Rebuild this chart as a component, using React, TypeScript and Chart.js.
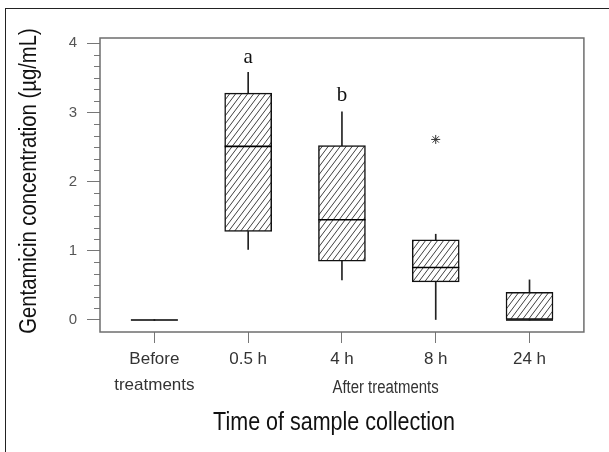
import React, { useEffect, useRef } from "react";
import { Chart, registerables } from "chart.js";

Chart.register(...registerables);

// ---- data ----
const categoryLabels: (string | string[])[] = [["Before", "treatments"], "0.5 h", "4 h", "8 h", "24 h"];
const categoryX = [1, 2, 3, 4, 5];
const whiskerLow = [0, 1.02, 0.58, 0, 0];
const q1 = [0, 1.28, 0.85, 0.55, 0];
const median = [0, 2.51, 1.45, 0.76, 0];
const q3 = [0, 3.28, 2.52, 1.16, 0.4];
const whiskerHigh = [0, 3.58, 3.01, 1.24, 0.58];
const outliers = [{ x: 4, y: 2.61 }];
const groupLetters = ["", "a", "b", "", ""];
const letterY = [0, 3.79, 3.25, 0, 0];
const yTicks = [0, 1, 2, 3, 4];
const yTitle = "Gentamicin concentration (\u00b5g/mL)";
const xTitle = "Time of sample collection";
const groupCaption = "After treatments";
const groupCaptionX = 3.465;

const SANS = "'Liberation Sans', Arial, sans-serif";
const SERIF = "'Liberation Serif', 'Times New Roman', serif";

function makeHatch(): CanvasPattern | string {
  const w = 6, h = 8;
  const c = document.createElement("canvas");
  c.width = w;
  c.height = h;
  const g = c.getContext("2d");
  if (!g) return "#fff";
  g.fillStyle = "#fff";
  g.fillRect(0, 0, w, h);
  g.strokeStyle = "#2a2a2a";
  g.lineWidth = 0.9;
  for (const dx of [-w, 0, w]) {
    g.beginPath();
    g.moveTo(dx - w, 2 * h);
    g.lineTo(dx + 2 * w, -h);
    g.stroke();
  }
  return g.createPattern(c, "repeat") || "#fff";
}

function narrowText(ctx: CanvasRenderingContext2D, text: string, x: number, y: number, sx: number, rot = 0) {
  ctx.save();
  ctx.translate(x, y);
  if (rot) ctx.rotate(rot);
  ctx.scale(sx, 1);
  ctx.fillText(text, 0, 0);
  ctx.restore();
}

const decorPlugin = {
  id: "decor",
  afterDraw(chart: any) {
    const { ctx, chartArea: a, scales } = chart;
    const x = scales.x;
    const y = scales.y;
    ctx.save();
    // minor ticks on y axis
    ctx.strokeStyle = "#777";
    ctx.lineWidth = 1;
    for (let i = 0; i <= 24; i++) {
      if (i % 6 === 0) continue;
      const py = Math.round(y.getPixelForValue(i / 6)) + 0.5;
      ctx.beginPath();
      ctx.moveTo(a.left - 6, py);
      ctx.lineTo(a.left, py);
      ctx.stroke();
    }
    // frame
    ctx.strokeStyle = "#6e6e6e";
    ctx.lineWidth = 1.5;
    ctx.strokeRect(a.left, a.top, a.right - a.left, a.bottom - a.top);
    // group letters
    ctx.fillStyle = "#111";
    ctx.font = `21px ${SERIF}`;
    ctx.textAlign = "center";
    ctx.textBaseline = "middle";
    groupLetters.forEach((l, i) => {
      if (!l) return;
      ctx.fillText(l, x.getPixelForValue(categoryX[i]), y.getPixelForValue(letterY[i]));
    });
    // caption under after-treatment categories
    ctx.fillStyle = "#333";
    ctx.font = `18px ${SANS}`;
    narrowText(ctx, groupCaption, x.getPixelForValue(groupCaptionX), x.top + 56, 0.83);
    // x title
    ctx.fillStyle = "#111";
    ctx.font = `25px ${SANS}`;
    narrowText(ctx, xTitle, a.left + 234, x.top + 91, 0.86);
    // y title
    ctx.font = `23px ${SANS}`;
    narrowText(ctx, yTitle, 30, (a.top + a.bottom) / 2 - 4, 0.88, -Math.PI / 2);
    ctx.restore();
  },
};

export default function App() {
  const ref = useRef<HTMLCanvasElement>(null);
  useEffect(() => {
    if (!ref.current) return;
    const hatch = makeHatch();
    const chart = new Chart(ref.current, {
      type: "bar",
      data: {
        datasets: [
          {
            type: "bar",
            label: "whiskers",
            data: [
              ...categoryX.map((xv, i) => ({ x: xv, y: [q3[i], whiskerHigh[i]] })),
              ...categoryX.map((xv, i) => ({ x: xv, y: [whiskerLow[i], q1[i]] })),
            ] as any,
            backgroundColor: "#222",
            borderWidth: 0,
            barThickness: 1,
            grouped: false,
            order: 3,
          } as any,
          {
            type: "bar",
            label: "boxes",
            data: categoryX.map((xv, i) => ({ x: xv, y: [q1[i], q3[i]] })) as any,
            backgroundColor: hatch as any,
            borderColor: "#111",
            borderWidth: 1.5,
            borderSkipped: false,
            barThickness: 47,
            grouped: false,
            order: 2,
          } as any,
          {
            type: "scatter",
            label: "median",
            data: categoryX.map((xv, i) => ({ x: xv, y: median[i] })),
            pointStyle: "line",
            pointRadius: 23.5,
            borderColor: "#000",
            borderWidth: 1.6,
            order: 1,
          } as any,
          {
            type: "scatter",
            label: "outliers",
            data: outliers,
            pointStyle: "star",
            pointRadius: 4.5,
            borderColor: "#333",
            borderWidth: 1,
            order: 0,
          } as any,
        ],
      },
      options: {
        responsive: false,
        animation: false,
        events: [],
        layout: { padding: { top: 38, right: 19, left: 0, bottom: 0 } },
        plugins: { legend: { display: false }, tooltip: { enabled: false } },
        scales: {
          x: {
            type: "linear",
            min: 0.42,
            max: 5.58,
            offset: false,
            afterBuildTicks: (s: any) => {
              s.ticks = categoryX.map((v) => ({ value: v }));
            },
            afterFit: (s: any) => {
              s.height = 120;
            },
            ticks: {
              autoSkip: false,
              maxRotation: 0,
              minRotation: 0,
              padding: 3,
              color: "#333",
              font: { family: SANS, size: 17, lineHeight: 1.53 },
              callback: (_v: any, i: number) => categoryLabels[i],
            },
            grid: { offset: false, drawOnChartArea: false, drawTicks: true, tickLength: 11, color: "#777" },
            border: { display: false },
          } as any,
          y: {
            type: "linear",
            min: -0.1735,
            max: 4.0766,
            afterBuildTicks: (s: any) => {
              s.ticks = yTicks.map((v) => ({ value: v }));
            },
            afterFit: (s: any) => {
              s.width = 100;
            },
            ticks: {
              padding: 10,
              color: "#555",
              font: { family: SANS, size: 15 },
              callback: (v: any) => String(v),
            },
            grid: { drawOnChartArea: false, drawTicks: true, tickLength: 13, color: "#777" },
            border: { display: false },
          } as any,
        },
      },
      plugins: [decorPlugin],
    });
    return () => chart.destroy();
  }, []);

  return (
    <div style={{ position: "fixed", left: 0, top: 0, width: 609, height: 452, overflow: "hidden", background: "#fff" }}>
      <div
        style={{
          position: "absolute",
          left: 5,
          top: 8,
          width: 610,
          height: 450,
          borderTop: "1px solid #222",
          borderLeft: "1px solid #222",
        }}
      />
      <canvas ref={ref} width={609} height={452} style={{ position: "absolute", left: 0, top: 0 }} />
    </div>
  );
}
